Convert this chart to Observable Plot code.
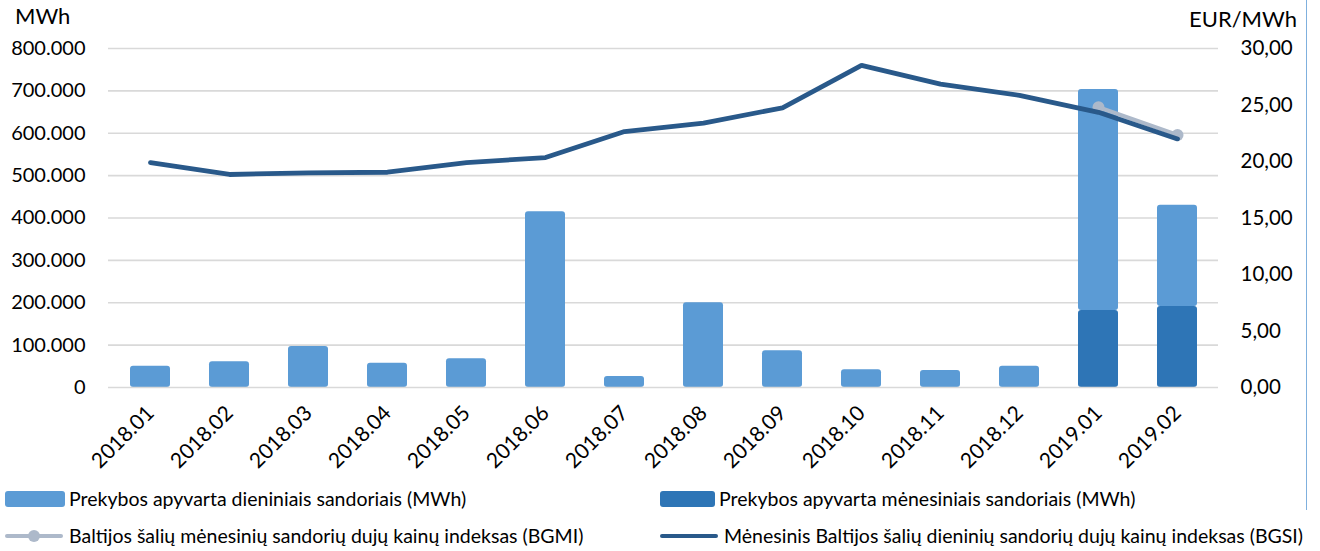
<!DOCTYPE html>
<html>
<head>
<meta charset="utf-8">
<script src="https://cdn.jsdelivr.net/npm/d3@7"></script>
<script src="https://cdn.jsdelivr.net/npm/@observablehq/plot@0.6"></script>
<style>
  html, body { margin: 0; padding: 0; background: #fff; }
  body { font-family: Lato, "Open Sans", sans-serif; color: #000; }
  #wrap { position: relative; width: 1320px; height: 551px; overflow: hidden; }
  .axtitle { position: absolute; font-size: 22px; line-height: 1; }
  #edge { position: absolute; left: 1306px; top: 0; width: 1px; height: 510px; background: #7fb0de; }
  .legend { position: absolute; font-size: 19.5px; display: flex; align-items: center; white-space: nowrap; }
  .sw-rect { width: 60px; height: 16px; border-radius: 3px; margin-right: 4px; }
  .sw-line { position: relative; width: 58px; height: 16px; margin-right: 6px; }
  .sw-line .l { position: absolute; left: 0; right: 0; top: 6px; height: 4px; border-radius: 2px; }
  .sw-line .c { position: absolute; left: 23px; top: 2px; width: 12px; height: 12px; border-radius: 50%; }
</style>
</head>
<body>
<div id="wrap">
  <div id="chart"></div>
  <div class="axtitle" style="left:15px; top:5px;">MWh</div>
  <div class="axtitle" style="right:23px; top:8px;">EUR/MWh</div>
  <div id="edge"></div>
  <div id="legend"></div>
</div>
<script>
// ---- data ----
const months = ["2018.01","2018.02","2018.03","2018.04","2018.05","2018.06","2018.07","2018.08","2018.09","2018.10","2018.11","2018.12","2019.01","2019.02"];
const dailyMWh   = [50000, 61000, 97000, 57000, 68000, 415000, 26000, 200000, 87000, 42000, 40000, 50000, 521000, 239000];
const monthlyMWh = [0, 0, 0, 0, 0, 0, 0, 0, 0, 0, 0, 0, 182000, 191000];
const bgsi = [19.9, 18.85, 19.0, 19.05, 19.9, 20.35, 22.65, 23.4, 24.75, 28.5, 26.85, 25.85, 24.35, 22.0];
const bgmi = [null, null, null, null, null, null, null, null, null, null, null, null, 24.8, 22.35];
const leftTicks = [0, 100000, 200000, 300000, 400000, 500000, 600000, 700000, 800000];
const rightTicks = [0, 5, 10, 15, 20, 25, 30];
const legendLabels = [
  "Prekybos apyvarta dieniniais sandoriais (MWh)",
  "Prekybos apyvarta mėnesiniais sandoriais (MWh)",
  "Baltijos šalių mėnesinių sandorių dujų kainų indeksas (BGMI)",
  "Mėnesinis Baltijos šalių dieninių sandorių dujų kainų indeksas (BGSI)"
];

const cDaily = "#5b9bd5", cMonthly = "#2e75b6", cBGSI = "#29598a", cBGMI = "#adb9ca";
const K = 800000 / 30; // price -> MWh axis mapping

const rows = months.map((m, i) => ({
  m, daily: dailyMWh[i], monthly: monthlyMWh[i],
  bgsi: bgsi[i] * K, bgmi: bgmi[i] == null ? null : bgmi[i] * K
}));
const bgmiRows = rows.filter(d => d.bgmi != null);

const fmtL = d => d === 0 ? "0" : d3.format(",")(d).replace(/,/g, ".");
const fmtR = d => (d / K).toFixed(2).replace(".", ",");

const plot = Plot.plot({
  width: 1320,
  height: 480,
  marginLeft: 108,
  marginRight: 102,
  marginTop: 48,
  marginBottom: 93,
  style: { fontFamily: "Lato, 'Open Sans', sans-serif", fontSize: "20px", color: "#000", background: "transparent" },
  x: { domain: months, paddingInner: 0.5, paddingOuter: 0.25, label: null },
  y: { domain: [0, 800000], label: null },
  marks: [
    Plot.gridY(leftTicks.filter(t => t > 0), { stroke: "#d9d9d9", strokeOpacity: 1, strokeWidth: 1.6 }),
    Plot.barY(rows.filter(d => d.monthly > 0), { x: "m", y1: 0, y2: "monthly", fill: cMonthly, rx: 3 }),
    Plot.barY(rows, { x: "m", y1: "monthly", y2: d => d.monthly + d.daily, fill: cDaily, rx: 3 }),
    Plot.ruleY([0], { stroke: "#d9d9d9", strokeWidth: 1.6 }),
    Plot.line(bgmiRows, { x: "m", y: "bgmi", stroke: cBGMI, strokeWidth: 4 }),
    Plot.dot(bgmiRows, { x: "m", y: "bgmi", r: 6, fill: cBGMI }),
    Plot.line(rows, { x: "m", y: "bgsi", stroke: cBGSI, strokeWidth: 4.8, strokeLinejoin: "miter" }),
    Plot.axisY(leftTicks, { anchor: "left", tickSize: 0, tickPadding: 23, tickFormat: fmtL, label: null, fontSize: 20 }),
    Plot.axisY(rightTicks.map(t => t * K), { anchor: "right", tickSize: 0, tickPadding: 22, tickFormat: fmtR, label: null, fontSize: 20.5 }),
    Plot.axisX({ tickSize: 0, tickRotate: -45, tickPadding: 22, label: null, fontSize: 21 })
  ]
});
document.getElementById("chart").appendChild(plot);

// ---- legend ----
const leg = document.getElementById("legend");
const items = [
  { label: legendLabels[0], type: "rect", color: cDaily, left: 5, top: 487 },
  { label: legendLabels[1], type: "rect", color: cMonthly, left: 660, top: 487, w: 55 },
  { label: legendLabels[2], type: "line", color: cBGMI, left: 5, top: 524, dot: true },
  { label: legendLabels[3], type: "line", color: cBGSI, left: 660, top: 524 }
];
items.forEach(it => {
  const row = document.createElement("div");
  row.className = "legend";
  row.style.left = it.left + "px";
  row.style.top = it.top + "px";
  const sw = document.createElement("div");
  if (it.type === "rect") {
    sw.className = "sw-rect";
    sw.style.background = it.color;
    if (it.w) sw.style.width = it.w + "px";
  } else {
    sw.className = "sw-line";
    const l = document.createElement("div"); l.className = "l"; l.style.background = it.color; sw.appendChild(l);
    if (it.dot) { const c = document.createElement("div"); c.className = "c"; c.style.background = it.color; sw.appendChild(c); }
  }
  row.appendChild(sw);
  const t = document.createElement("span");
  t.textContent = it.label;
  row.appendChild(t);
  leg.appendChild(row);
});
</script>
</body>
</html>
